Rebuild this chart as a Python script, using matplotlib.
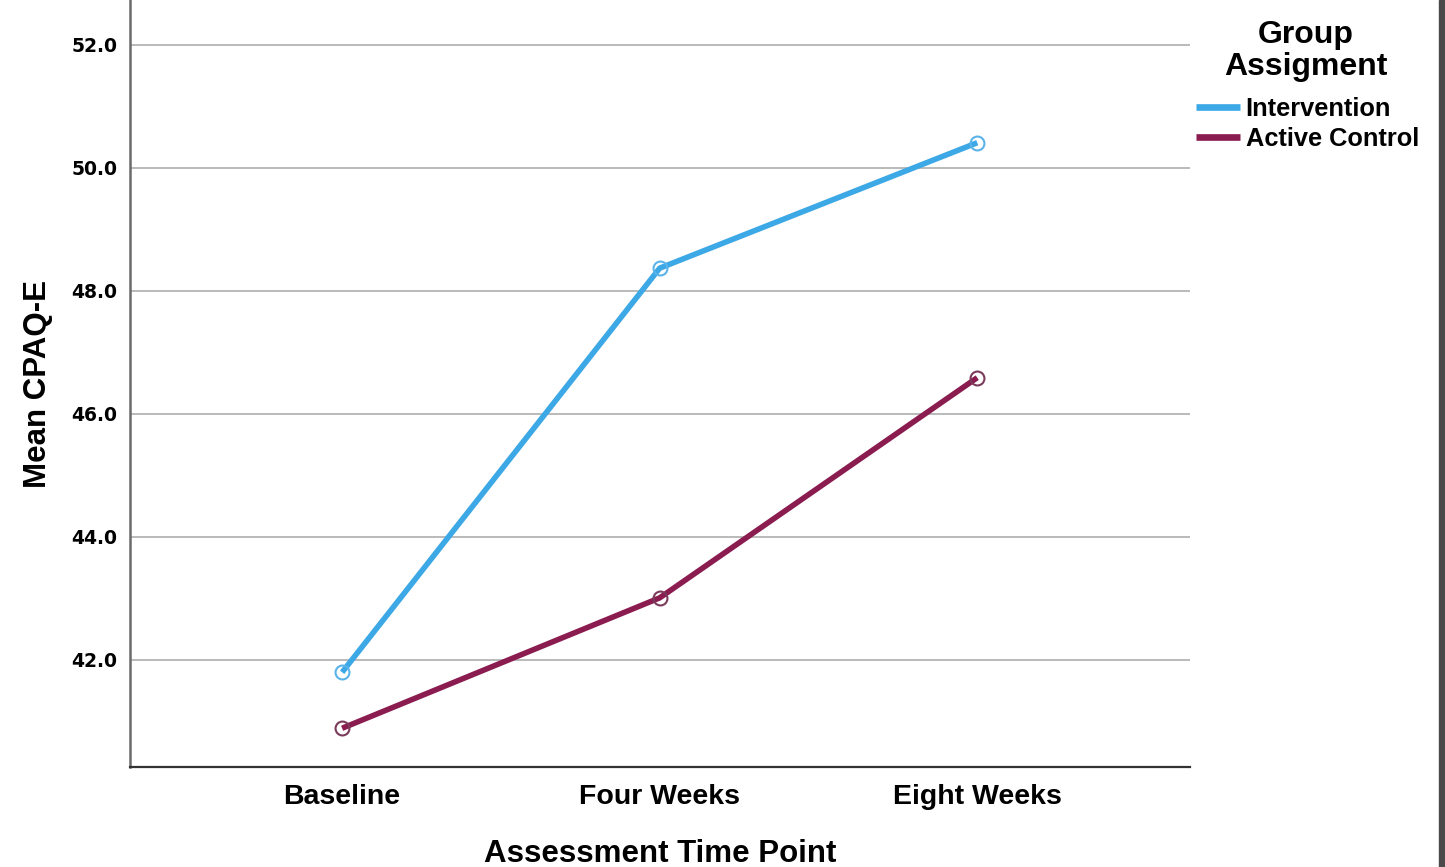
import matplotlib
matplotlib.use("Agg")
import matplotlib.pyplot as plt
from matplotlib.patches import Rectangle

categories = ["Baseline", "Four Weeks", "Eight Weeks"]
intervention = [41.80, 48.37, 50.41]
active_control = [40.89, 43.01, 46.59]
series_names = ["Intervention", "Active Control"]
yticks = [42.0, 44.0, 46.0, 48.0, 50.0, 52.0]

fig = plt.figure(figsize=(14.45, 8.67), dpi=100)
fig.patch.set_facecolor("white")
ax = fig.add_axes([130/1445, 100/867, 1060/1445, 767/867])

c_int = "#3da8e6"
c_ac = "#8a1c50"
x = list(range(len(categories)))
l1, = ax.plot(x, intervention, color=c_int, lw=4.0, marker="o", ms=10,
              mfc="none", mec="#5ab4ea", mew=1.5, zorder=3, solid_capstyle="butt")
l2, = ax.plot(x, active_control, color=c_ac, lw=4.0, marker="o", ms=10,
              mfc="none", mec="#7a3a5a", mew=1.5, zorder=3, solid_capstyle="butt")

ax.set_xlim(-0.668, 2.67)
ax.set_ylim(40.26, 52.73)
ax.set_yticks(yticks)
ax.set_yticklabels([f"{v:.1f}" for v in yticks], fontfamily="DejaVu Sans",
                   fontweight="bold", fontsize=13.5)
ax.set_xticks(x)
ax.set_xticklabels(categories, fontfamily="Liberation Sans", fontweight="bold", fontsize=20.5)
ax.tick_params(axis="both", length=0)
ax.tick_params(axis="y", pad=9)
ax.tick_params(axis="x", pad=12)
ax.grid(axis="y", color="#b4b4b4", lw=1.3, zorder=0)
for s in ["top", "right"]:
    ax.spines[s].set_visible(False)
ax.spines["left"].set_color("#6a6a6a")
ax.spines["left"].set_linewidth(1.8)
ax.spines["bottom"].set_color("#333333")
ax.spines["bottom"].set_linewidth(1.6)

ax.set_xlabel("Assessment Time Point", fontfamily="Liberation Sans", fontweight="bold",
              fontsize=22.5, labelpad=21)
ax.set_ylabel("Mean CPAQ-E", fontfamily="Liberation Sans", fontweight="bold",
              fontsize=22.5, labelpad=13)

fig.text(1306/1445, 1 - 51/867, "Group\nAssigment", ha="center", va="center",
         multialignment="center", linespacing=1.05,
         fontfamily="Liberation Sans", fontweight="bold", fontsize=23)

leg = fig.legend([l1, l2], series_names, loc="upper left",
                 bbox_to_anchor=(1196/1445, 1 - 97/867), frameon=False,
                 handlelength=1.75, handletextpad=0.2, borderpad=0,
                 labelspacing=0.25, borderaxespad=0,
                 prop={"family": "Liberation Sans", "weight": "bold", "size": 18.3})
for h in leg.legend_handles:
    h.set_marker("")
    h.set_linewidth(4.8)

fig.patches.append(Rectangle((1439/1445, 0), 6/1445, 1, transform=fig.transFigure,
                             color="#4a4a4a", zorder=10))

fig.savefig("out.png", dpi=100, facecolor="white")
